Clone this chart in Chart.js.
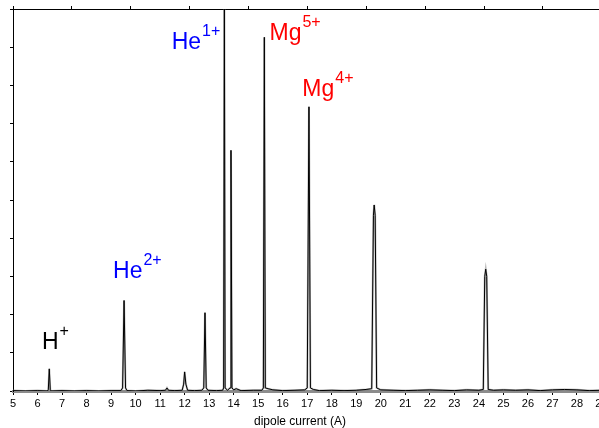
<!DOCTYPE html>
<html>
<head>
<meta charset="utf-8">
<script src="https://cdn.jsdelivr.net/npm/chart.js@4"></script>
<style>
  body { margin: 0; overflow: hidden; background: #fff; }
  #wrap { width: 599px; height: 428px; overflow: hidden; }
</style>
</head>
<body>
<div id="wrap"><canvas id="canvas" width="626" height="428"></canvas></div>
<script>
// dipole current (A) and signal
const current = [
  5.0, 5.5, 6.0, 6.4, 6.44, 6.48, 6.52, 6.56, 7.0, 7.5, 8.0, 8.5, 9.0,
  9.4, 9.47, 9.53, 9.59, 9.65, 10.0, 10.5, 11.0, 11.22, 11.28, 11.34, 11.6,
  11.9, 11.96, 12.0, 12.05, 12.12, 12.4, 12.7, 12.78, 12.83, 12.88, 12.95,
  13.3, 13.55, 13.59, 13.62, 13.65, 13.75, 13.85, 13.89, 13.93, 14.0, 14.1,
  14.3, 14.8, 15.15, 15.21, 15.25, 15.29, 15.4, 15.6, 16.0, 16.5, 16.9,
  17.0, 17.07, 17.13, 17.25, 17.5, 18.0, 18.5, 19.0, 19.4, 19.63, 19.7,
  19.73, 19.77, 19.83, 20.0, 20.5, 21.0, 21.5, 22.0, 22.5, 23.0, 23.5,
  24.0, 24.18, 24.24, 24.28, 24.32, 24.38, 24.6, 25.0, 25.5, 26.0, 26.5,
  27.0, 27.5, 28.0, 28.5, 29.0, 30.0
];
const signal = [
  0.01, 0.0, 0.01, 0.0, 0.03, 0.58, 0.03, 0.0, 0.01, 0.0, 0.01, 0.0, 0.01,
  0.01, 0.08, 2.37, 0.08, 0.01, 0.0, 0.02, 0.01, 0.02, 0.08, 0.02, 0.01,
  0.02, 0.18, 0.5, 0.18, 0.02, 0.01, 0.02, 0.08, 2.05, 0.08, 0.02,
  0.01, 0.02, 0.08, 10.6, 0.08, 0.02, 0.08, 6.3, 0.08, 0.03, 0.06,
  0.01, 0.02, 0.02, 0.08, 9.26, 0.08, 0.06, 0.03, 0.01, 0.02, 0.03,
  0.08, 7.44, 0.08, 0.04, 0.01, 0.02, 0.01, 0.02, 0.04, 0.06, 4.6,
  4.87, 4.6, 0.08, 0.03, 0.02, 0.01, 0.02, 0.03, 0.02, 0.01, 0.03,
  0.02, 0.04, 3.0, 3.19, 3.0, 0.04, 0.02, 0.03, 0.02, 0.03, 0.01,
  0.03, 0.04, 0.03, 0.01, 0.02, 0.01
];

// peak labels: ion, charge, position of text baseline in data units
const ions = ['H', 'He', 'He', 'Mg', 'Mg'];
const charges = ['+', '2+', '1+', '5+', '4+'];
const labelX = [6.18, 9.08, 11.47, 15.46, 16.8];
const labelY = [1.10, 2.96, 8.94, 9.18, 7.72];
const labelColors = ['#000000', '#0000ff', '#0000ff', '#ff0000', '#ff0000'];

const points = current.map((x, i) => ({ x: x, y: signal[i] }));

const labelsPlugin = {
  id: 'peakLabels',
  afterDatasetsDraw(chart) {
    const c = chart.ctx;
    const xs = chart.scales.x, ys = chart.scales.y;
    c.save();
    c.textBaseline = 'alphabetic';
    c.textAlign = 'left';
    ions.forEach((ion, i) => {
      const px = xs.getPixelForValue(labelX[i]);
      const py = ys.getPixelForValue(labelY[i]);
      c.fillStyle = labelColors[i];
      c.font = '23px "Liberation Sans", Arial, sans-serif';
      c.fillText(ion, px, py);
      const w = c.measureText(ion).width;
      c.font = '16px "Liberation Sans", Arial, sans-serif';
      c.fillText(charges[i], px + w + 1, py - 13);
    });
    // axis title
    c.fillStyle = '#000';
    c.textAlign = 'center';
    c.font = '12px "Liberation Sans", Arial, sans-serif';
    c.fillText('dipole current (A)', 300, 425);
    c.restore();
  }
};

const data = {
  datasets: [{
    data: points,
    borderColor: '#000000',
    borderWidth: 1,
    pointRadius: 0,
    tension: 0
  }, {
    data: points,
    borderColor: 'rgba(128, 128, 128, 0.55)',
    borderWidth: 2,
    pointRadius: 0,
    tension: 0
  }]
};

const options = {
  responsive: false,
  maintainAspectRatio: false,
  animation: false,
  layout: { padding: 0 },
  plugins: { legend: { display: false }, tooltip: { enabled: false } },
  scales: {
    x: {
      type: 'linear',
      position: 'bottom',
      min: 5,
      max: 30,
      afterBuildTicks: s => { s.ticks = s.ticks.filter(t => t.value < 30); },
      afterFit: s => { s.height = 37; },
      ticks: {
        stepSize: 1,
        color: '#000',
        padding: 2,
        maxRotation: 0,
        autoSkip: false,
        font: { family: '"Liberation Sans", Arial, sans-serif', size: 11 }
      },
      grid: { drawOnChartArea: false, tickLength: 4, color: '#000' },
      border: { color: '#8c8c8c', width: 3 }
    },
    x2: {
      type: 'linear',
      position: 'top',
      min: 0,
      max: 10.41,
      afterFit: s => { s.height = 9; },
      ticks: { display: false, stepSize: 1 },
      grid: { drawOnChartArea: false, tickLength: 3, color: '#000' },
      border: { color: '#000', width: 1 }
    },
    y: {
      min: 0,
      max: 10,
      afterFit: s => { s.width = 13; },
      ticks: { display: false, stepSize: 1 },
      grid: { drawOnChartArea: false, tickLength: 3, color: '#000' },
      border: { color: '#000', width: 1 }
    }
  }
};

let ctx = document.getElementById('canvas').getContext('2d');
new Chart(ctx, { type: 'line', data: data, options: options, plugins: [labelsPlugin] });
</script>
</body>
</html>
